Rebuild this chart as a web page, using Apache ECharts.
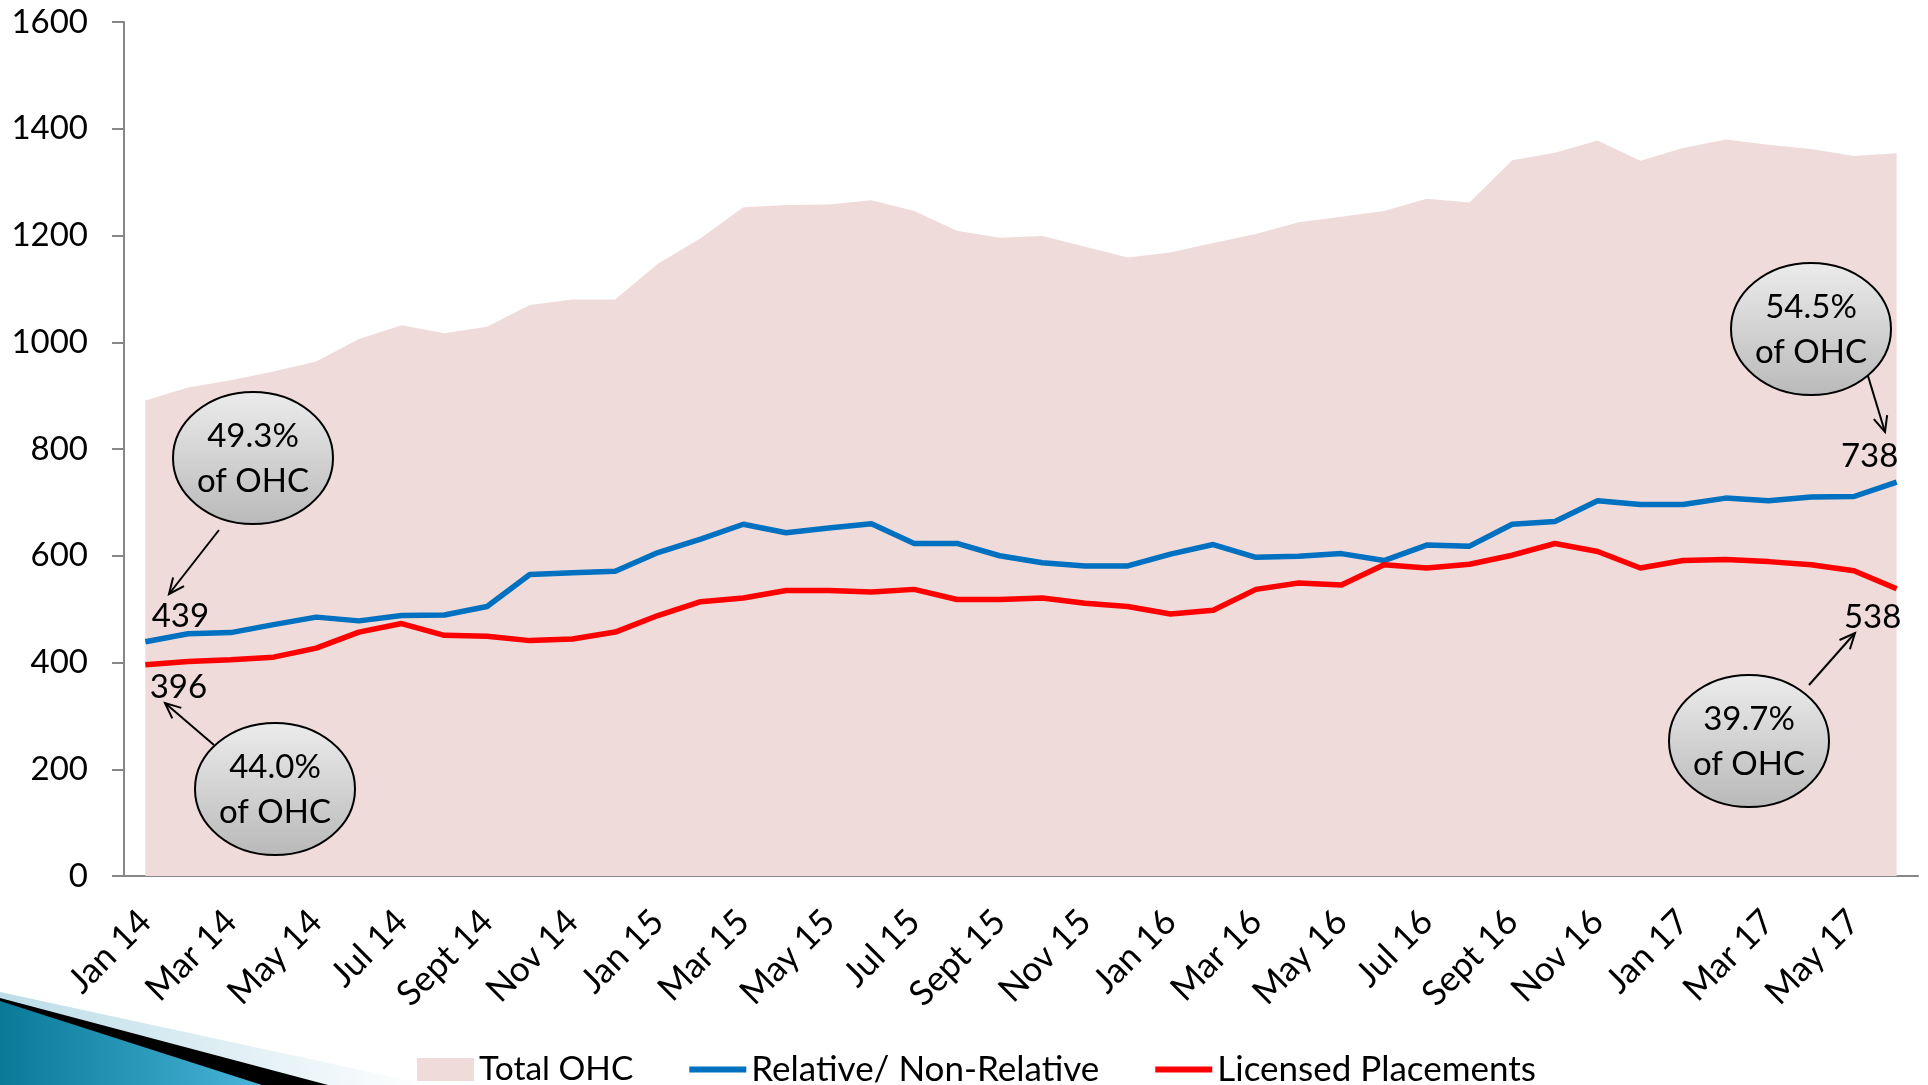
<!DOCTYPE html>
<html>
<head>
<meta charset="utf-8">
<title>OHC placements</title>
<script src="https://cdn.jsdelivr.net/npm/echarts@6/dist/echarts.min.js"></script>
<style>
  html, body { margin: 0; padding: 0; background: #fff; }
  #chart { width: 1928px; height: 1085px; }
</style>
</head>
<body>
<div id="chart"></div>
<script>
// months Jan 14 .. Jun 17
const months = [
  'Jan 14', 'Feb 14', 'Mar 14', 'Apr 14', 'May 14', 'Jun 14', 'Jul 14', 'Aug 14', 'Sept 14', 'Oct 14', 'Nov 14', 'Dec 14',
  'Jan 15', 'Feb 15', 'Mar 15', 'Apr 15', 'May 15', 'Jun 15', 'Jul 15', 'Aug 15', 'Sept 15', 'Oct 15', 'Nov 15', 'Dec 15',
  'Jan 16', 'Feb 16', 'Mar 16', 'Apr 16', 'May 16', 'Jun 16', 'Jul 16', 'Aug 16', 'Sept 16', 'Oct 16', 'Nov 16', 'Dec 16',
  'Jan 17', 'Feb 17', 'Mar 17', 'Apr 17', 'May 17', 'Jun 17'
]
const totalOHC = [
  891, 915, 929, 945, 964, 1006, 1032, 1017, 1029, 1070, 1080, 1080,
  1147, 1195, 1253, 1257, 1258, 1266, 1246, 1209, 1196, 1199, 1179, 1159,
  1168, 1186, 1203, 1225, 1235, 1246, 1269, 1262, 1341, 1355, 1378, 1340,
  1364, 1380, 1370, 1362, 1349, 1354
]
const relative = [
  439, 454, 456, 471, 485, 478, 488, 489, 505, 565, 568, 571,
  606, 631, 659, 643, 652, 660, 623, 623, 600, 587, 581, 581,
  603, 621, 597, 599, 604, 591, 620, 618, 659, 664, 703, 696,
  696, 708, 703, 710, 711, 738
]
const licensed = [
  396, 402, 405, 410, 427, 457, 473, 451, 449, 441, 444, 457,
  488, 514, 521, 535, 535, 532, 537, 518, 518, 521, 511, 505,
  491, 498, 537, 549, 545, 583, 577, 584, 601, 623, 608, 577,
  591, 593, 589, 583, 572, 538
]
const yTicks = [0, 1600, 200] // min, max, step
const bubbleTexts = ['49.3%\nof OHC', '44.0%\nof OHC', '54.5%\nof OHC', '39.7%\nof OHC']

const FONT = 'Lato, "Noto Sans", sans-serif'

// first / last points get their value written next to them
function withEndLabels (values, first, last) {
  return values.map(function (v, i) {
    if (i === 0) return { value: v, label: first }
    if (i === values.length - 1) return { value: v, label: last }
    return v
  })
}
function endLabel (position, offset) {
  return { show: true, position: position, offset: offset, color: '#000', fontSize: 33, fontFamily: FONT, formatter: '{c}' }
}

// callout bubble with gray gradient
function bubble (cx, cy, text) {
  return [
    {
      type: 'ellipse', z: 100,
      shape: { cx: cx, cy: cy, rx: 80, ry: 66 },
      style: {
        fill: {
          type: 'linear', x: 0, y: 0, x2: 0, y2: 1,
          colorStops: [{ offset: 0, color: '#ececec' }, { offset: 1, color: '#b9b9b9' }]
        },
        stroke: '#000', lineWidth: 2
      }
    },
    {
      type: 'text', z: 101, x: cx, y: cy + 1,
      style: { text: text, fill: '#000', font: '33px ' + FONT, textAlign: 'center', textVerticalAlign: 'middle', lineHeight: 45 }
    }
  ]
}

// thin arrow with open head
function arrow (x1, y1, x2, y2) {
  const a = Math.atan2(y2 - y1, x2 - x1)
  const L = 17, w = 0.42
  return [
    { type: 'line', z: 100, shape: { x1: x1, y1: y1, x2: x2, y2: y2 }, style: { stroke: '#000', lineWidth: 2 } },
    {
      type: 'polyline', z: 100,
      shape: { points: [[x2 - L * Math.cos(a - w), y2 - L * Math.sin(a - w)], [x2, y2], [x2 - L * Math.cos(a + w), y2 - L * Math.sin(a + w)]] },
      style: { stroke: '#000', lineWidth: 2, fill: null }
    }
  ]
}

// slide decoration in the bottom left corner
const decoration = [
  {
    type: 'polygon', z: 0,
    shape: { points: [[0, 992], [430, 1085], [0, 1085]] },
    style: { fill: { type: 'linear', x: 0, y: 0, x2: 1, y2: 0, colorStops: [{ offset: 0, color: '#bcdde8' }, { offset: 1, color: '#ffffff' }] } }
  },
  { type: 'polygon', z: 0, shape: { points: [[0, 998], [328, 1085], [0, 1085]] }, style: { fill: '#000' } },
  {
    type: 'polygon', z: 0,
    shape: { points: [[0, 1001], [262, 1085], [0, 1085]] },
    style: { fill: { type: 'linear', x: 0, y: 0, x2: 1, y2: 0, colorStops: [{ offset: 0, color: '#087a98' }, { offset: 1, color: '#49b4d8' }] } }
  }
]

const chart = echarts.init(document.getElementById('chart'))
chart.setOption({
  backgroundColor: '#fff',
  animation: false,
  textStyle: { fontFamily: FONT },
  grid: { left: 124, right: 10, top: 22, bottom: 209 },
  legend: {
    left: 412, top: 1047,
    itemWidth: 57, itemHeight: 23, itemGap: 53,
    textStyle: { fontSize: 35, color: '#000', fontFamily: FONT },
    lineStyle: { width: 6 },
    data: [
      { name: 'Total OHC', icon: 'rect', textStyle: { fontSize: 33.5 } },
      { name: 'Relative/ Non-Relative', itemStyle: { opacity: 0 } },
      { name: 'Licensed Placements', itemStyle: { opacity: 0 } }
    ]
  },
  xAxis: {
    type: 'category',
    data: months,
    boundaryGap: true,
    axisLine: { lineStyle: { color: '#868686', width: 2 } },
    axisTick: { interval: 0, length: 12, lineStyle: { color: '#868686', width: 2 } },
    axisLabel: { interval: 1, rotate: 45, margin: 40, fontSize: 35, color: '#000', fontFamily: FONT }
  },
  yAxis: {
    type: 'value',
    min: yTicks[0], max: yTicks[1], interval: yTicks[2],
    splitLine: { show: false },
    axisLine: { show: true, lineStyle: { color: '#868686', width: 2 } },
    axisTick: { show: true, length: 12, lineStyle: { color: '#868686', width: 2 } },
    axisLabel: { margin: 36, fontSize: 33, color: '#000', fontFamily: FONT, formatter: function (v) { return String(v) } }
  },
  series: [
    {
      name: 'Total OHC',
      type: 'line',
      data: totalOHC,
      symbol: 'none',
      color: '#efdbd9',
      lineStyle: { width: 0 },
      areaStyle: { color: '#efdbd9', opacity: 1 },
      z: 1
    },
    {
      name: 'Relative/ Non-Relative',
      type: 'line',
      data: withEndLabels(relative, endLabel('top', [35, -4]), endLabel('top', [-27, -4])),
      symbol: 'circle',
      symbolSize: 0,
      showAllSymbol: true,
      color: '#0070c0',
      lineStyle: { width: 5.5 },
      z: 3
    },
    {
      name: 'Licensed Placements',
      type: 'line',
      data: withEndLabels(licensed, endLabel('bottom', [33, 1]), endLabel('bottom', [-24, 7])),
      symbol: 'circle',
      symbolSize: 0,
      showAllSymbol: true,
      color: '#ff0000',
      lineStyle: { width: 5.5 },
      z: 3
    }
  ],
  graphic: {
    elements: [].concat(
      decoration,
      bubble(253, 458, bubbleTexts[0]), arrow(219, 530, 169, 594),
      bubble(275, 789, bubbleTexts[1]), arrow(214, 745, 165, 703),
      bubble(1811, 329, bubbleTexts[2]), arrow(1868, 376, 1885, 432),
      bubble(1749, 741, bubbleTexts[3]), arrow(1809, 685, 1855, 633)
    )
  }
})
</script>
</body>
</html>
